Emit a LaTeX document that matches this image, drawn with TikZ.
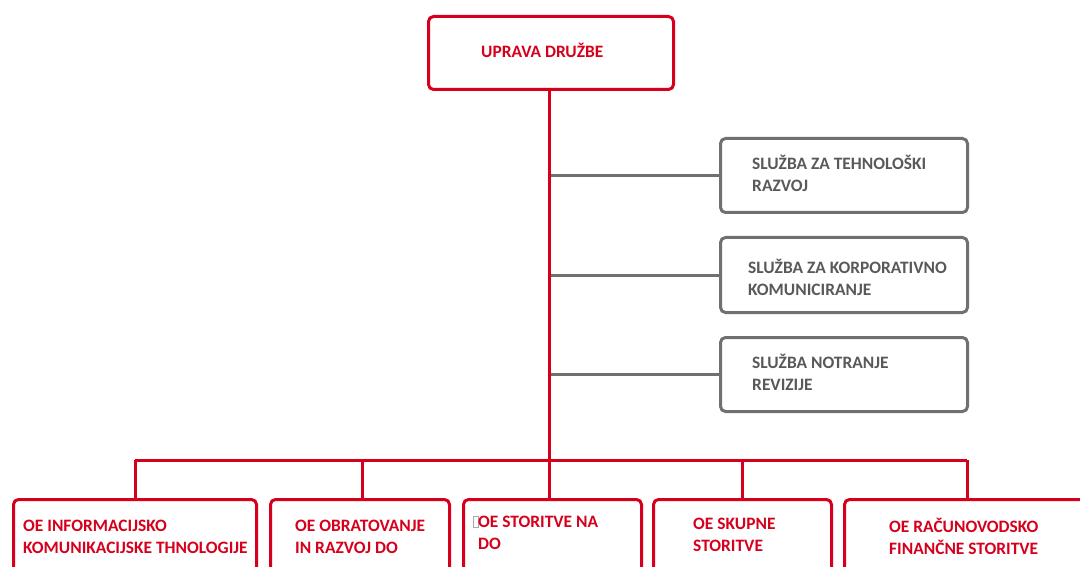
\documentclass[tikz,border=0pt]{standalone}
\usepackage{fontspec}
\setmainfont{Carlito}
\definecolor{ored}{RGB}{214,0,28}
\definecolor{ogray}{RGB}{112,112,112}
\definecolor{otext}{RGB}{89,89,89}
\tikzset{
  redbox/.style={draw=ored, line width=3pt, rounded corners=5pt, fill=white, anchor=north west, inner sep=0pt},
  graybox/.style={draw=ogray, line width=3pt, rounded corners=5pt, fill=white, anchor=north west, inner sep=0pt},
  redline/.style={draw=ored, line width=3pt},
  grayline/.style={draw=ogray, line width=3pt},
  redtxt/.style={text=ored, font=\bfseries\fontsize{17.4}{22}\selectfont, anchor=base west, inner sep=0pt},
  graytxt/.style={text=otext, font=\bfseries\fontsize{17.4}{22}\selectfont, anchor=base west, inner sep=0pt}
}
\begin{document}
\begin{tikzpicture}[x=1pt,y=-1pt]
\useasboundingbox (0,0) rectangle (1080,567);
\clip (0,0) rectangle (1080,567);
% boxes
\node[redbox, minimum width=245pt, minimum height=73pt] (top) at (427,15) {};
\node[graybox, minimum width=247pt, minimum height=74pt] (sA) at (719,137) {};
\node[graybox, minimum width=247pt, minimum height=75pt] (sB) at (719,236) {};
\node[graybox, minimum width=247pt, minimum height=74pt] (sC) at (719,336) {};
\node[redbox, minimum width=243pt, minimum height=120pt] (b1) at (12,498) {};
\node[redbox, minimum width=179pt, minimum height=120pt] (b2) at (269,498) {};
\node[redbox, minimum width=178pt, minimum height=120pt] (b3) at (462,498) {};
\node[redbox, minimum width=178pt, minimum height=120pt] (b4) at (652,498) {};
\node[redbox, minimum width=260pt, minimum height=120pt] (b5) at (843,498) {};
% bus coordinates
\coordinate (bus) at (549,460);
\coordinate (d1) at (135,460);
\coordinate (d2) at (362,460);
\coordinate (d4) at (742,460);
\coordinate (d5) at (967,460);
% gray connectors
\draw[grayline] (sA.west -| bus) -- (sA.west);
\draw[grayline] (sB.west -| bus) -- (sB.west);
\draw[grayline] (sC.west -| bus) -- (sC.west);
% red connectors
\draw[redline] (top.south -| bus) -- (bus);
\draw[redline] (d1) -- (d5);
\draw[redline] (d1) -- (d1 |- b1.north);
\draw[redline] (d2) -- (d2 |- b2.north);
\draw[redline] (bus) -- (bus |- b3.north);
\draw[redline] (d4) -- (d4 |- b4.north);
\draw[redline] (d5) -- (d5 |- b5.north);
% texts
\node[redtxt] (ttop) at (481,58) {UPRAVA DRUŽBE};
\node[graytxt] (tA1) at (752,170) {SLUŽBA ZA TEHNOLOŠKI};
\node[graytxt] (tA2) at (752,192) {RAZVOJ};
\node[graytxt] (tB1) at (748,273) {SLUŽBA ZA KORPORATIVNO};
\node[graytxt] (tB2) at (748,295) {KOMUNICIRANJE};
\node[graytxt] (tC1) at (752,368) {SLUŽBA NOTRANJE};
\node[graytxt] (tC2) at (752,390) {REVIZIJE};
\node[redtxt] (t11) at (23,531) {OE INFORMACIJSKO};
\node[redtxt] (t12) at (23,553) {KOMUNIKACIJSKE THNOLOGIJE};
\node[redtxt] (t21) at (295,531) {OE OBRATOVANJE};
\node[redtxt] (t22) at (295,553) {IN RAZVOJ DO};
\draw[ogray!60, line width=0.6pt] (473,516) rectangle (478,527);
\node[redtxt] (t31) at (478,527) {OE STORITVE NA};
\node[redtxt] (t32) at (478,549) {DO};
\node[redtxt] (t41) at (693,529) {OE SKUPNE};
\node[redtxt] (t42) at (693,551) {STORITVE};
\node[redtxt] (t51) at (889,532) {OE RAČUNOVODSKO};
\node[redtxt] (t52) at (889,554) {FINANČNE STORITVE};
\end{tikzpicture}
\end{document}
